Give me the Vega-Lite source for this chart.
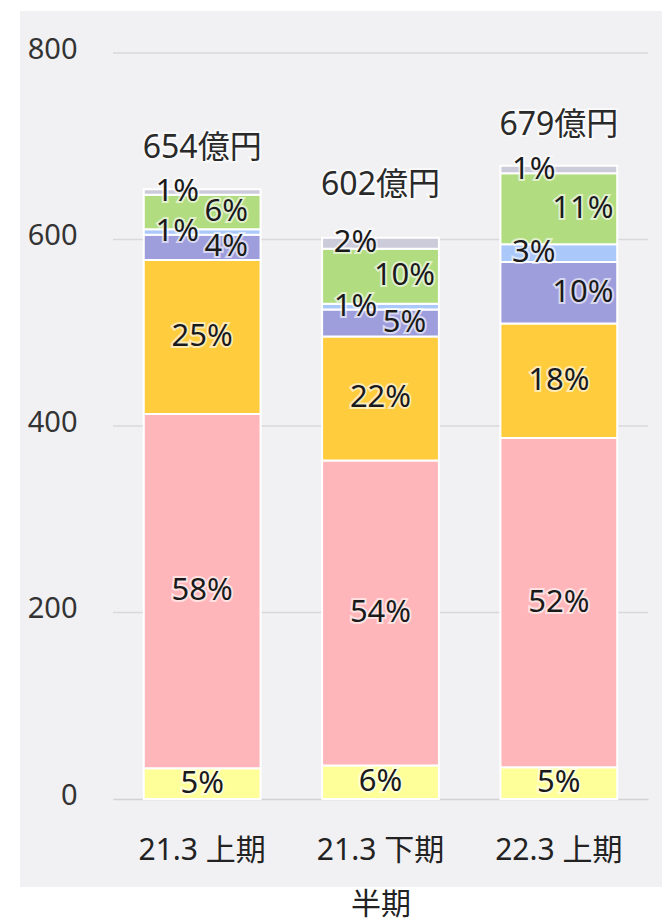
{
  "$schema": "https://vega.github.io/schema/vega-lite/v6.json",
  "width": 642,
  "height": 876,
  "autosize": {"type": "none"},
  "padding": {"left": 20, "top": 11, "right": 0, "bottom": 34},
  "background": "#ffffff",
  "config": {
    "view": {"fill": "#f1f1f3", "stroke": null},
    "font": "Noto Sans, Noto Sans CJK JP",
    "text": {"font": "Noto Sans, Noto Sans CJK JP"},
    "axis": {"labelFont": "Noto Sans, Noto Sans CJK JP", "titleFont": "Noto Sans, Noto Sans CJK JP"}
  },
  "data": {
    "values": [
      {"period": "21.3 上期", "cat": "区分1", "ord": 1, "value": 33},
      {"period": "21.3 上期", "cat": "区分2", "ord": 2, "value": 380},
      {"period": "21.3 上期", "cat": "区分3", "ord": 3, "value": 165},
      {"period": "21.3 上期", "cat": "区分4", "ord": 4, "value": 27},
      {"period": "21.3 上期", "cat": "区分5", "ord": 5, "value": 6},
      {"period": "21.3 上期", "cat": "区分6", "ord": 6, "value": 37},
      {"period": "21.3 上期", "cat": "区分7", "ord": 7, "value": 6},
      {"period": "21.3 下期", "cat": "区分1", "ord": 1, "value": 36},
      {"period": "21.3 下期", "cat": "区分2", "ord": 2, "value": 327},
      {"period": "21.3 下期", "cat": "区分3", "ord": 3, "value": 133},
      {"period": "21.3 下期", "cat": "区分4", "ord": 4, "value": 29},
      {"period": "21.3 下期", "cat": "区分5", "ord": 5, "value": 6},
      {"period": "21.3 下期", "cat": "区分6", "ord": 6, "value": 59},
      {"period": "21.3 下期", "cat": "区分7", "ord": 7, "value": 12},
      {"period": "22.3 上期", "cat": "区分1", "ord": 1, "value": 34},
      {"period": "22.3 上期", "cat": "区分2", "ord": 2, "value": 353},
      {"period": "22.3 上期", "cat": "区分3", "ord": 3, "value": 123},
      {"period": "22.3 上期", "cat": "区分4", "ord": 4, "value": 66},
      {"period": "22.3 上期", "cat": "区分5", "ord": 5, "value": 19},
      {"period": "22.3 上期", "cat": "区分6", "ord": 6, "value": 76},
      {"period": "22.3 上期", "cat": "区分7", "ord": 7, "value": 8}
    ]
  },
  "transform": [
    {"stack": "value", "groupby": ["period"], "sort": [{"field": "ord", "order": "ascending"}], "as": ["v0", "v1"]},
    {"joinaggregate": [{"op": "sum", "field": "value", "as": "total"}], "groupby": ["period"]},
    {"calculate": "(datum.v0 + datum.v1) / 2", "as": "mid"},
    {"calculate": "format(datum.value / datum.total, '.0%')", "as": "pct"},
    {"calculate": "datum.total + '億円'", "as": "tlabel"}
  ],
  "layer": [
    {
      "data": {"values": [{"v": 200}, {"v": 400}, {"v": 600}, {"v": 800}]},
      "mark": {"type": "rule", "color": "#d9d9dc", "strokeWidth": 1.5},
      "encoding": {
        "y": {"field": "v", "type": "quantitative", "scale": {"domain": [0, 800], "range": [788, 42], "nice": false, "zero": true}},
        "x": {"datum": 0, "type": "quantitative", "scale": {"domain": [0, 1], "range": [93, 628]}, "axis": null},
        "x2": {"datum": 1}
      }
    },
    {
      "mark": {"type": "bar", "stroke": "#ffffff", "strokeWidth": 2},
      "encoding": {
        "x": {
          "field": "period", "type": "nominal",
          "scale": {"domain": ["21.3 上期", "21.3 下期", "22.3 上期"], "range": [93, 628], "paddingInner": 0.345, "paddingOuter": 0.1725},
          "axis": {
            "title": "半期", "orient": "bottom", "offset": -88,
            "domainColor": "#d2d2d4", "domainWidth": 1.5,
            "ticks": false, "grid": false,
            "labelPadding": 36, "labelFontSize": 30, "labelColor": "#222222", "labelAngle": 0,
            "titleFontSize": 30, "titleFontWeight": "normal", "titleColor": "#222222", "titlePadding": 24
          }
        },
        "y": {
          "field": "value", "type": "quantitative", "stack": "zero",
          "scale": {"domain": [0, 800], "range": [788, 42], "nice": false, "zero": true},
          "axis": {
            "title": null, "orient": "left", "offset": -93,
            "values": [0, 200, 400, 600, 800],
            "domain": false, "ticks": false, "grid": false,
            "labelPadding": 36, "labelFontSize": 29, "labelColor": "#333333", "labelOffset": -4
          }
        },
        "color": {
          "field": "cat", "type": "nominal", "legend": null,
          "scale": {
            "domain": ["区分1", "区分2", "区分3", "区分4", "区分5", "区分6", "区分7"],
            "range": ["#ffff99", "#ffb6ba", "#ffcc3d", "#9f9edd", "#abc8fb", "#b1dc80", "#cbcbd9"]
          }
        },
        "order": {"field": "ord", "type": "quantitative", "sort": "ascending"}
      }
    },
    {
      "transform": [{"filter": "datum.ord <= 3"}],
      "mark": {"type": "text", "fontSize": 31, "baseline": "middle", "stroke": "#ffffff", "strokeWidth": 4, "strokeOpacity": 0.6, "fill": "#ffffff"},
      "encoding": {
        "x": {"field": "period", "type": "nominal", "scale": {"domain": ["21.3 上期", "21.3 下期", "22.3 上期"], "range": [93, 628], "paddingInner": 0.345, "paddingOuter": 0.1725}, "axis": null},
        "y": {"field": "mid", "type": "quantitative", "scale": {"domain": [0, 800], "range": [788, 42], "nice": false, "zero": true}},
        "text": {"field": "pct"}
      }
    },
    {
      "transform": [{"filter": "datum.ord <= 3"}],
      "mark": {"type": "text", "fontSize": 31, "baseline": "middle", "fill": "#1a1a1a"},
      "encoding": {
        "x": {"field": "period", "type": "nominal", "scale": {"domain": ["21.3 上期", "21.3 下期", "22.3 上期"], "range": [93, 628], "paddingInner": 0.345, "paddingOuter": 0.1725}, "axis": null},
        "y": {"field": "mid", "type": "quantitative", "scale": {"domain": [0, 800], "range": [788, 42], "nice": false, "zero": true}},
        "text": {"field": "pct"}
      }
    },
    {
      "transform": [{"filter": "datum.ord == 4 || datum.ord == 6"}],
      "mark": {"type": "text", "fontSize": 31, "baseline": "middle", "dx": 24, "stroke": "#ffffff", "strokeWidth": 4, "strokeOpacity": 0.6, "fill": "#ffffff"},
      "encoding": {
        "x": {"field": "period", "type": "nominal", "scale": {"domain": ["21.3 上期", "21.3 下期", "22.3 上期"], "range": [93, 628], "paddingInner": 0.345, "paddingOuter": 0.1725}, "axis": null},
        "y": {"field": "mid", "type": "quantitative", "scale": {"domain": [0, 800], "range": [788, 42], "nice": false, "zero": true}},
        "text": {"field": "pct"}
      }
    },
    {
      "transform": [{"filter": "datum.ord == 4 || datum.ord == 6"}],
      "mark": {"type": "text", "fontSize": 31, "baseline": "middle", "dx": 24, "fill": "#1a1a1a"},
      "encoding": {
        "x": {"field": "period", "type": "nominal", "scale": {"domain": ["21.3 上期", "21.3 下期", "22.3 上期"], "range": [93, 628], "paddingInner": 0.345, "paddingOuter": 0.1725}, "axis": null},
        "y": {"field": "mid", "type": "quantitative", "scale": {"domain": [0, 800], "range": [788, 42], "nice": false, "zero": true}},
        "text": {"field": "pct"}
      }
    },
    {
      "transform": [{"filter": "datum.ord == 5 || datum.ord == 7"}],
      "mark": {"type": "text", "fontSize": 31, "baseline": "middle", "dx": -25, "stroke": "#ffffff", "strokeWidth": 4, "strokeOpacity": 0.6, "fill": "#ffffff"},
      "encoding": {
        "x": {"field": "period", "type": "nominal", "scale": {"domain": ["21.3 上期", "21.3 下期", "22.3 上期"], "range": [93, 628], "paddingInner": 0.345, "paddingOuter": 0.1725}, "axis": null},
        "y": {"field": "mid", "type": "quantitative", "scale": {"domain": [0, 800], "range": [788, 42], "nice": false, "zero": true}},
        "text": {"field": "pct"}
      }
    },
    {
      "transform": [{"filter": "datum.ord == 5 || datum.ord == 7"}],
      "mark": {"type": "text", "fontSize": 31, "baseline": "middle", "dx": -25, "fill": "#1a1a1a"},
      "encoding": {
        "x": {"field": "period", "type": "nominal", "scale": {"domain": ["21.3 上期", "21.3 下期", "22.3 上期"], "range": [93, 628], "paddingInner": 0.345, "paddingOuter": 0.1725}, "axis": null},
        "y": {"field": "mid", "type": "quantitative", "scale": {"domain": [0, 800], "range": [788, 42], "nice": false, "zero": true}},
        "text": {"field": "pct"}
      }
    },
    {
      "transform": [{"filter": "datum.ord == 7 && datum.period != '21.3 下期'"}],
      "mark": {"type": "text", "fontSize": 32, "baseline": "middle", "dy": -41, "stroke": "#ffffff", "strokeWidth": 4, "strokeOpacity": 0.6, "fill": "#ffffff"},
      "encoding": {
        "x": {"field": "period", "type": "nominal", "scale": {"domain": ["21.3 上期", "21.3 下期", "22.3 上期"], "range": [93, 628], "paddingInner": 0.345, "paddingOuter": 0.1725}, "axis": null},
        "y": {"field": "total", "type": "quantitative", "scale": {"domain": [0, 800], "range": [788, 42], "nice": false, "zero": true}},
        "text": {"field": "tlabel"}
      }
    },
    {
      "transform": [{"filter": "datum.ord == 7 && datum.period != '21.3 下期'"}],
      "mark": {"type": "text", "fontSize": 32, "baseline": "middle", "dy": -41, "fill": "#2a2a2a"},
      "encoding": {
        "x": {"field": "period", "type": "nominal", "scale": {"domain": ["21.3 上期", "21.3 下期", "22.3 上期"], "range": [93, 628], "paddingInner": 0.345, "paddingOuter": 0.1725}, "axis": null},
        "y": {"field": "total", "type": "quantitative", "scale": {"domain": [0, 800], "range": [788, 42], "nice": false, "zero": true}},
        "text": {"field": "tlabel"}
      }
    },
    {
      "transform": [{"filter": "datum.ord == 7 && datum.period == '21.3 下期'"}],
      "mark": {"type": "text", "fontSize": 32, "baseline": "middle", "dy": -53, "stroke": "#ffffff", "strokeWidth": 4, "strokeOpacity": 0.6, "fill": "#ffffff"},
      "encoding": {
        "x": {"field": "period", "type": "nominal", "scale": {"domain": ["21.3 上期", "21.3 下期", "22.3 上期"], "range": [93, 628], "paddingInner": 0.345, "paddingOuter": 0.1725}, "axis": null},
        "y": {"field": "total", "type": "quantitative", "scale": {"domain": [0, 800], "range": [788, 42], "nice": false, "zero": true}},
        "text": {"field": "tlabel"}
      }
    },
    {
      "transform": [{"filter": "datum.ord == 7 && datum.period == '21.3 下期'"}],
      "mark": {"type": "text", "fontSize": 32, "baseline": "middle", "dy": -53, "fill": "#2a2a2a"},
      "encoding": {
        "x": {"field": "period", "type": "nominal", "scale": {"domain": ["21.3 上期", "21.3 下期", "22.3 上期"], "range": [93, 628], "paddingInner": 0.345, "paddingOuter": 0.1725}, "axis": null},
        "y": {"field": "total", "type": "quantitative", "scale": {"domain": [0, 800], "range": [788, 42], "nice": false, "zero": true}},
        "text": {"field": "tlabel"}
      }
    }
  ],
  "resolve": {"scale": {"x": "independent"}}
}
